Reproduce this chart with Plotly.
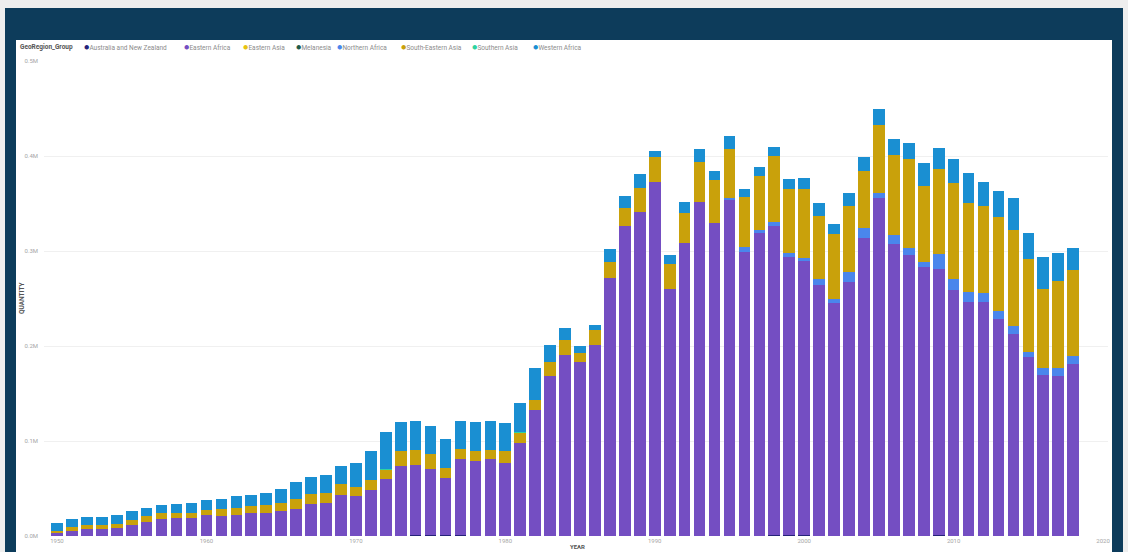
import plotly.graph_objects as go

years = list(range(1950, 2019))

australia_nz = [0, 0, 0, 0, 0, 0, 0, 0, 0, 0,
                0, 0, 0, 0, 0, 0, 0, 0, 0, 0,
                0, 0, 0, 0, 1.0, 1.0, 1.0, 1.0, 0, 0,
                0, 0, 0, 0, 0, 0, 0, 0, 0, 0,
                0, 0, 0, 0, 0, 0, 0, 0, 1.0, 1.0,
                1.0, 0, 0, 0, 0, 0, 0, 0, 0, 1.0,
                0, 0, 0, 0, 0, 0, 0, 0, 0]

eastern_africa = [4.2, 5.5, 7, 7, 8, 11.5, 15, 17.5, 18.6, 19,
                  22, 21, 22.5, 24, 24.5, 26, 28, 34, 35, 43,
                  42, 48.5, 60, 74, 74, 69.5, 60, 80, 79, 81,
                  76.5, 97.5, 133, 168, 191, 183, 201, 271.5, 326, 341,
                  373, 260, 308, 352, 329, 353.7, 299, 318.6, 325.6, 293,
                  288, 264, 245, 267.7, 314, 355.5, 307, 296, 283, 280,
                  259, 246.7, 246.3, 228, 213, 188.7, 169.5, 168.7, 181]

eastern_asia = [0, 0, 0, 0, 0, 0, 0, 0, 0, 0,
                0, 0, 0, 0, 0, 0, 0, 0, 0, 0,
                0, 0, 0, 0, 0, 0, 0, 0, 0, 0,
                0, 0, 0, 0, 0, 0, 0, 0, 0, 0,
                0, 0, 0, 0, 0, 0, 0, 0, 0, 0,
                0, 0, 0, 0, 0, 0, 0, 0, 0, 0,
                0, 0, 0, 0, 0, 0, 0, 0, 0]

melanesia = [0, 0, 0, 0, 0, 0, 0, 0, 0, 0,
             0, 0, 0, 0, 0, 0, 0, 0, 0, 0,
             0, 0, 0, 0, 0, 0, 0, 0, 0, 0,
             0, 0, 0, 0, 0, 0, 0, 0, 0, 0,
             0, 0, 0, 0, 0, 0, 0, 0, 0, 0,
             0, 0, 0, 0, 0, 0, 0, 0, 0, 0,
             0, 0, 0, 0, 0, 0, 0, 0, 0]

northern_africa = [0, 0, 0, 0, 0, 0, 0, 0, 0, 0,
                   0, 0, 0, 0, 0, 0, 0, 0, 0, 0,
                   0, 0, 0, 0, 0, 0, 0, 0, 0, 0,
                   0, 0, 0, 0, 0, 0, 0, 0, 0, 0,
                   0, 0, 0, 0, 0, 2.5, 5, 3.5, 4, 4,
                   4, 7, 4, 10.5, 10, 6, 9.5, 7, 5, 16,
                   12, 10.5, 10, 9, 8.4, 5, 7, 8, 8]

south_eastern_asia = [1.4, 4, 5, 5, 5, 5, 6, 6.5, 5.5, 5.5,
                      5.5, 7, 7.5, 7.5, 8, 9, 10.5, 10, 10.5, 11.5,
                      10, 10, 10, 16, 16, 15.5, 11, 10.5, 11, 10,
                      12.5, 11, 10, 15, 15, 10, 16, 17, 19, 25,
                      26, 26, 31.7, 42, 45.7, 51.5, 52.7, 57, 69, 67,
                      72, 66, 69, 69, 60, 71, 85, 94, 80, 89,
                      101, 93, 91, 99, 101, 97.6, 84, 92, 91]

southern_asia = [0, 0, 0, 0, 0, 0, 0, 0, 0, 0,
                 0, 0, 0, 0, 0, 0, 0, 0, 0, 0,
                 0, 0, 1.0, 0, 0, 0, 0, 0, 0, 0,
                 0, 1.0, 0, 0, 0, 0, 0, 0, 0, 0,
                 0, 0, 0, 0, 0, 0, 0, 0, 0, 0,
                 0, 0, 0, 0, 0, 0, 0, 0, 0, 0,
                 0, 0, 0, 0, 0, 0, 0, 0, 0]

western_africa = [7.7, 8, 8, 8.5, 9, 10, 9, 9, 10, 10.5,
                  10.5, 11, 12, 12, 12.5, 15, 18.5, 18.5, 18.5, 19,
                  24.5, 30.5, 38, 30.5, 30, 29.5, 30, 29.5, 30, 30.5,
                  30, 31, 34, 18, 13, 7, 5, 13.5, 13, 15,
                  6.3, 10, 11.5, 13, 10, 13, 9, 9, 10, 11,
                  12, 14, 10, 13.5, 15, 17, 16, 17, 24.6, 22,
                  25, 32, 25.6, 27.5, 33, 28, 33, 29.5, 23]

series_names = ["Australia and New Zealand", "Eastern Africa", "Eastern Asia", "Melanesia",
                "Northern Africa", "South-Eastern Asia", "Southern Asia", "Western Africa"]
series_values = [australia_nz, eastern_africa, eastern_asia, melanesia,
                 northern_africa, south_eastern_asia, southern_asia, western_africa]
series_colors = ["#26237A", "#744EC2", "#E8C30F", "#1F5C4A",
                 "#4A86EC", "#C9A10B", "#2ED3A0", "#1A8FD2"]

y_tick_vals = [0, 100000, 200000, 300000, 400000, 500000]
y_tick_text = ["0.0M", "0.1M", "0.2M", "0.3M", "0.4M", "0.5M"]
x_tick_vals = [1950, 1960, 1970, 1980, 1990, 2000, 2010, 2020]

W, H = 1128, 552
L, R, T, B = 44, 20, 61, 16
PW = W - L - R
PH = H - T - B


def px_x(p):
    return (p - L) / PW


def px_y(p):
    return (H - B - p) / PH


fig = go.Figure()
for name, vals, col in zip(series_names, series_values, series_colors):
    fig.add_trace(go.Bar(
        x=years, y=[v * 1000 for v in vals], name=name,
        marker=dict(color=col, line=dict(width=0)),
        width=0.78, showlegend=False,
    ))

shapes = [
    dict(type="rect", xref="paper", yref="paper", layer="below",
         x0=px_x(5), x1=px_x(1123), y0=px_y(560), y1=px_y(8),
         fillcolor="#0D3C5B", line=dict(width=0)),
    dict(type="rect", xref="paper", yref="paper", layer="below",
         x0=px_x(16), x1=px_x(1112), y0=px_y(560), y1=px_y(40),
         fillcolor="#FFFFFF", line=dict(width=0)),
]

FONT = "Roboto, Lato, sans-serif"
annotations = [
    dict(text="<b>GeoRegion_Group</b>", x=px_x(18), y=px_y(47), xref="paper", yref="paper",
         xanchor="left", yanchor="middle", showarrow=False,
         font=dict(family=FONT, size=6.5, color="#555555")),
]
legend_px = [82, 182, 241, 294, 335, 399, 470, 531]
for name, col, p in zip(series_names, series_colors, legend_px):
    annotations.append(dict(
        text=f"<span style='color:{col};font-size:9px'>●</span>{name}",
        x=px_x(p), y=px_y(47), xref="paper", yref="paper",
        xanchor="left", yanchor="middle", showarrow=False,
        font=dict(family=FONT, size=6.5, color="#8C8C8C"),
    ))
annotations.append(dict(text="<b>QUANTITY</b>", x=px_x(22), y=px_y(298), xref="paper", yref="paper",
                        textangle=-90, xanchor="center", yanchor="middle", showarrow=False,
                        font=dict(family=FONT, size=6.5, color="#555555")))
annotations.append(dict(text="<b>YEAR</b>", x=px_x(577), y=px_y(552), xref="paper", yref="paper",
                        xanchor="center", yanchor="bottom", showarrow=False,
                        font=dict(family=FONT, size=6, color="#555555")))

fig.update_layout(
    width=W, height=H,
    margin=dict(l=L, r=R, t=T, b=B, autoexpand=False),
    paper_bgcolor="#EEEEEE", plot_bgcolor="rgba(0,0,0,0)",
    barmode="stack", bargap=0.2,
    shapes=shapes, annotations=annotations,
    font=dict(family=FONT),
    xaxis=dict(range=[1949.13, 2020.33], tickvals=x_tick_vals, showgrid=False,
               zeroline=False, showline=False, ticks="", automargin=False,
               tickfont=dict(size=6, color="#A6A6A6", family=FONT)),
    yaxis=dict(range=[0, 500000], tickvals=y_tick_vals, ticktext=y_tick_text,
               showgrid=True, gridcolor="#F0F0F0", gridwidth=1, zeroline=False,
               showline=False, ticks="", automargin=False, ticklabelstandoff=5,
               tickfont=dict(size=6, color="#A6A6A6", family=FONT)),
)

fig.write_html(
    "out.html",
    config={"displayModeBar": False},
    post_script="document.body.style.margin='0';document.body.style.overflow='hidden';",
)
